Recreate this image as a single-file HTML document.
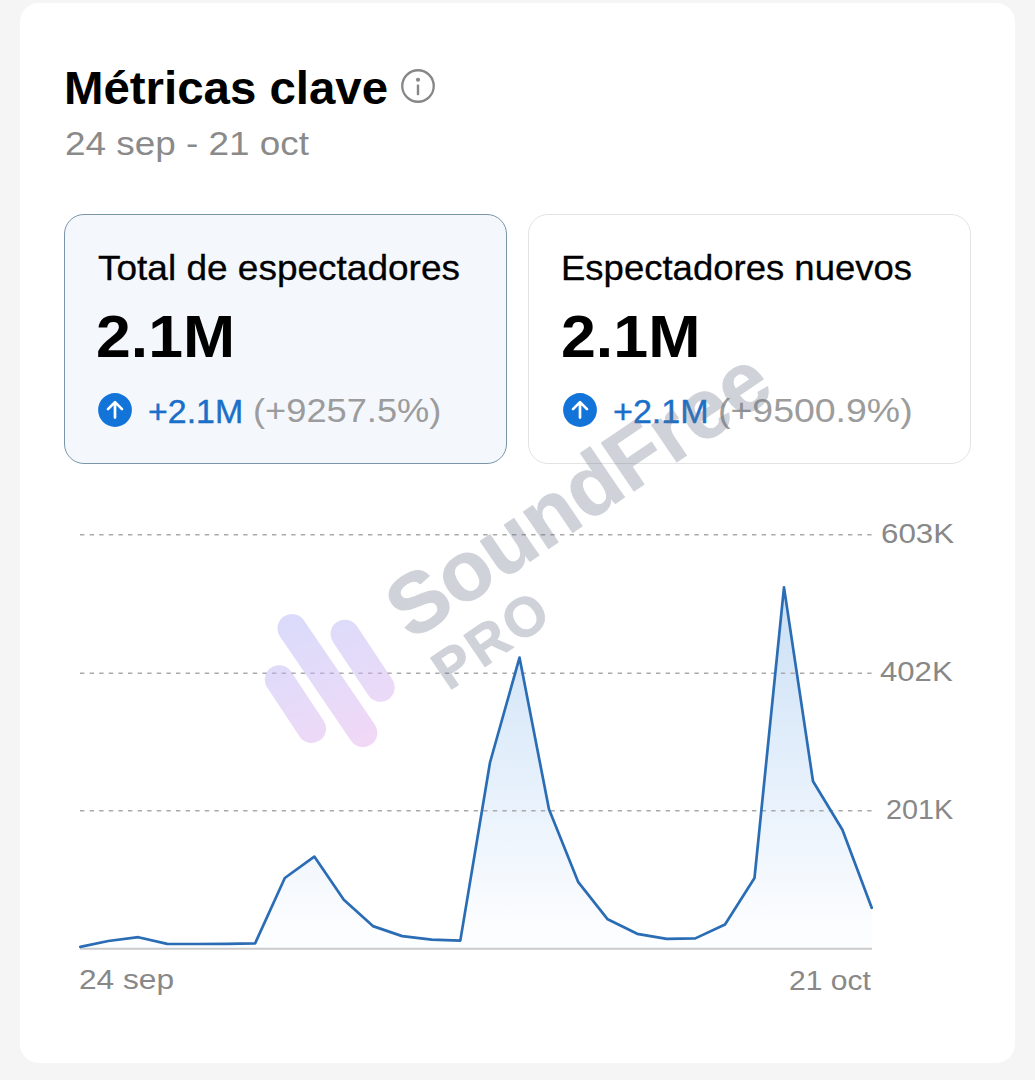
<!DOCTYPE html>
<html lang="es">
<head>
<meta charset="utf-8">
<title>Métricas clave</title>
<style>
  html, body { margin: 0; padding: 0; }
  body {
    width: 1035px; height: 1080px; overflow: hidden; position: relative;
    background: #f5f5f5;
    font-family: "Liberation Sans", sans-serif;
    color: #000;
  }
  .abs { position: absolute; white-space: nowrap; line-height: 1; transform-origin: 0 0; }
  #panel {
    position: absolute; left: 20px; top: 3px; width: 995px; height: 1060px;
    background: #fff; border-radius: 19px;
  }
  #title { left: 63.5px; top: 64.8px; font-size: 46px; font-weight: bold; transform: scaleX(1.030); }
  #sub { left: 64.7px; top: 126.6px; font-size: 33.5px; color: #8a8a8a; transform: scaleX(1.101); }
  .mcard { position: absolute; top: 213.6px; height: 248px; width: 441px; border-radius: 20px; box-sizing: content-box; }
  #c1 { left: 63.8px; background: #f4f8fd; border: 1px solid #7a95a8; }
  #c2 { left: 528.3px; background: #fff; border: 1px solid #e3e3e3; }
  .lbl { font-size: 35px; color: #000; -webkit-text-stroke: 0.3px #000; }
  .big { font-size: 60px; font-weight: bold; }
  .delta { font-size: 32.5px; color: #1a70c8; -webkit-text-stroke: 0.4px #1a70c8; }
  .pct { font-size: 32.5px; color: #9c9c9c; }
  .ax { font-size: 27px; color: #888888; }
</style>
</head>
<body>
<div id="panel"></div>

<div id="title" class="abs">Métricas clave</div>
<svg class="abs" style="left:399.6px;top:67.7px" width="36" height="36" viewBox="0 0 36 36">
  <circle cx="18" cy="18" r="15.75" fill="none" stroke="#878787" stroke-width="2.3"/>
  <circle cx="18" cy="11.7" r="2.05" fill="#878787"/>
  <rect x="16.8" y="16.4" width="2.4" height="10.9" rx="0.7" fill="#878787"/>
</svg>
<div id="sub" class="abs">24 sep - 21 oct</div>

<div id="c1" class="mcard"></div>
<div id="c2" class="mcard"></div>

<div class="abs lbl" style="left:97.5px;top:249.5px;transform:scaleX(1.057)">Total de espectadores</div>
<div class="abs big" style="left:95.9px;top:307px;transform:scaleX(1.042)">2.1M</div>
<svg class="abs" style="left:97.7px;top:392.5px" width="34" height="34" viewBox="0 0 34 34">
  <circle cx="17" cy="17" r="16.9" fill="#1273d9"/>
  <path d="M17 24.6V9.4M10 16.1L17 9.1L24 16.1" fill="none" stroke="#fff" stroke-width="2.7" stroke-linecap="round" stroke-linejoin="round"/>
</svg>
<div class="abs delta" style="left:147.9px;top:395.5px;transform:scaleX(1.043)">+2.1M</div>
<div class="abs pct" style="left:253.2px;top:395.3px;transform:scaleX(1.115)">(+9257.5%)</div>

<div class="abs lbl" style="left:561.4px;top:249.5px;transform:scaleX(1.043)">Espectadores nuevos</div>
<div class="abs big" style="left:561px;top:307.3px;transform:scaleX(1.045)">2.1M</div>
<svg class="abs" style="left:563px;top:392.7px" width="34" height="34" viewBox="0 0 34 34">
  <circle cx="17" cy="17" r="16.9" fill="#1273d9"/>
  <path d="M17 24.6V9.4M10 16.1L17 9.1L24 16.1" fill="none" stroke="#fff" stroke-width="2.7" stroke-linecap="round" stroke-linejoin="round"/>
</svg>
<div class="abs delta" style="left:612.8px;top:395.5px;transform:scaleX(1.049)">+2.1M</div>
<div class="abs pct" style="left:717.9px;top:395.3px;transform:scaleX(1.152)">(+9500.9%)</div>

<!-- chart -->
<svg class="abs" style="left:0;top:480px" width="1035" height="520" viewBox="0 480 1035 520">
  <defs>
    <linearGradient id="fillg" x1="0" y1="587" x2="0" y2="948" gradientUnits="userSpaceOnUse">
      <stop offset="0" stop-color="#cadff5"/>
      <stop offset="0.3" stop-color="#dae9f9"/>
      <stop offset="0.6" stop-color="#e9f2fc"/>
      <stop offset="0.85" stop-color="#f7fafe"/>
      <stop offset="1" stop-color="#fdfeff"/>
    </linearGradient>
  </defs>
  <path id="area" fill="url(#fillg)" stroke="none" d="M80.3 946.9L108.3 941L138.3 937.2L167.2 943.9L196.7 944L226.7 943.8L255.1 943.4L284.8 878L314.3 856.6L343.8 899.7L372.9 926.1L402.2 936.1L431.6 939.6L460.3 940.6L490 762.5L519.5 657.6L549 809.3L578.3 882.2L607.7 919.3L637.2 933.8L666.7 938.8L695.3 938.4L725 924.5L754.5 878L784 587.4L813 781.2L842.4 829.7L871.7 907.8L871.7 948.8L80.3 948.8Z"/>
  <g stroke="#aaaaaa" stroke-width="1.4" stroke-dasharray="4.4 5.2">
    <line x1="80" y1="534.8" x2="872.5" y2="534.8"/>
    <line x1="80" y1="673.2" x2="872.5" y2="673.2"/>
    <line x1="80" y1="810.8" x2="872.5" y2="810.8"/>
  </g>
  <line x1="80" y1="948.8" x2="872" y2="948.8" stroke="#cbcbcb" stroke-width="2"/>
  <path id="line" fill="none" stroke="#2a6db4" stroke-width="2.7" stroke-linejoin="round" stroke-linecap="round" d="M80.3 946.9L108.3 941L138.3 937.2L167.2 943.9L196.7 944L226.7 943.8L255.1 943.4L284.8 878L314.3 856.6L343.8 899.7L372.9 926.1L402.2 936.1L431.6 939.6L460.3 940.6L490 762.5L519.5 657.6L549 809.3L578.3 882.2L607.7 919.3L637.2 933.8L666.7 938.8L695.3 938.4L725 924.5L754.5 878L784 587.4L813 781.2L842.4 829.7L871.7 907.8"/>
</svg>
<div class="abs ax" style="left:880.8px;top:520.5px;transform:scaleX(1.16)">603K</div>
<div class="abs ax" style="left:880.3px;top:658.5px;transform:scaleX(1.152)">402K</div>
<div class="abs ax" style="left:886.1px;top:796.5px;transform:scaleX(1.066)">201K</div>
<div class="abs ax" style="left:79.1px;top:966.5px;transform:scaleX(1.173)">24 sep</div>
<div class="abs ax" style="left:789px;top:968px;transform:scaleX(1.112)">21 oct</div>

<!-- watermark -->
<svg class="abs" style="left:0;top:0" width="1035" height="1080" viewBox="0 0 1035 1080">
  <defs>
    <linearGradient id="wmg" x1="295" y1="612" x2="360" y2="750" gradientUnits="userSpaceOnUse">
      <stop offset="0" stop-color="#b7b7f7"/>
      <stop offset="0.5" stop-color="#cbb9f4"/>
      <stop offset="1" stop-color="#e6b1ef"/>
    </linearGradient>
  </defs>
  <g stroke="url(#wmg)" stroke-width="28.8" stroke-linecap="round" fill="none" opacity="0.5">
    <line x1="279.2" y1="679.6" x2="311.6" y2="728.6"/>
    <line x1="291.9" y1="628.3" x2="362.9" y2="732.7"/>
    <line x1="345.0" y1="634.1" x2="380.3" y2="687.4"/>
  </g>
  <g transform="translate(411.5 641.5) rotate(-34.1)" opacity="0.31" font-family="Liberation Sans, sans-serif" font-weight="bold" fill="#687088" stroke="#687088" stroke-linejoin="round">
    <text x="0" y="0" font-size="84.5" stroke-width="1.0">SoundFree</text>
    <text x="3" y="62" font-size="55" letter-spacing="3.5" stroke-width="1.0">PRO</text>
  </g>
</svg>
</body>
</html>
